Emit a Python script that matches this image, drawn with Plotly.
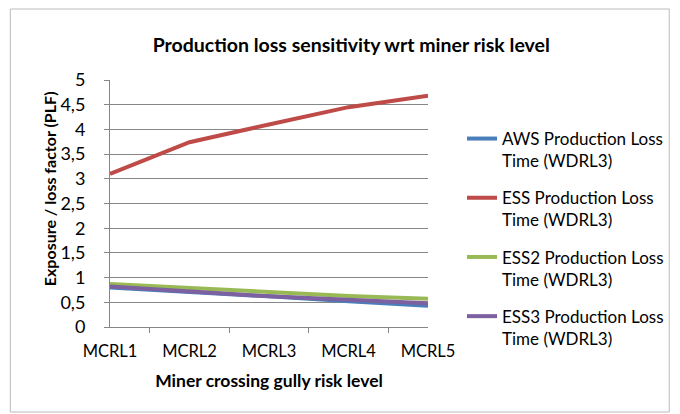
import plotly.graph_objects as go

categories = ["MCRL1", "MCRL2", "MCRL3", "MCRL4", "MCRL5"]
aws = [0.80, 0.72, 0.62, 0.52, 0.43]
ess = [3.10, 3.74, 4.10, 4.45, 4.68]
ess2 = [0.87, 0.79, 0.70, 0.63, 0.57]
ess3 = [0.82, 0.72, 0.62, 0.55, 0.48]

series = [
    ("AWS Production Loss<br>Time (WDRL3)", aws, "#4A7EBB"),
    ("ESS Production Loss<br>Time (WDRL3)", ess, "#BE4B48"),
    ("ESS2 Production Loss<br>Time (WDRL3)", ess2, "#98B954"),
    ("ESS3 Production Loss<br>Time (WDRL3)", ess3, "#7D60A0"),
]

FONT = "Lato"
fig = go.Figure()
for i, (name, vals, color) in enumerate(series):
    fig.add_trace(go.Scatter(
        x=categories, y=vals, mode="lines", name=name,
        line=dict(color=color, width=4), legendgroup=f"g{i}",
    ))

OFF = 8  # page body margin
W, H = 680 - OFF, 414 - OFF
# plot area in window pixels: x 110..429, y 80..327
L = 110 - OFF
R = W - (429 - OFF)
T = 80 - OFF
B = H - (327 - OFF)
pw, ph = W - L - R, H - T - B


def px_x(x):
    return (x - OFF - L) / pw


def px_y(y):
    return (H - B - (y - OFF)) / ph


fig.update_layout(
    width=W, height=H,
    margin=dict(l=L, r=R, t=T, b=B),
    paper_bgcolor="white", plot_bgcolor="white",
    separators=",.",
    font=dict(family=FONT, color="#000000"),
    title=dict(text="<b>Production loss sensitivity wrt miner risk level</b>",
               x=px_x(352), xref="paper", xanchor="center",
               y=1 - (45 - OFF) / H, yref="container", yanchor="middle",
               font=dict(size=19.5, family=FONT)),
    xaxis=dict(
        type="category", tickson="boundaries", ticks="outside", ticklen=5,
        tickcolor="#878787", showline=True, linecolor="#878787", linewidth=1,
        showgrid=False, tickfont=dict(size=16.5), ticklabelstandoff=9,
        title=dict(text="<b>Miner crossing gully risk level</b>", font=dict(size=17.5), standoff=14),
    ),
    yaxis=dict(
        range=[0, 5], dtick=0.5, ticks="outside", ticklen=5, tickcolor="#878787",
        showline=True, linecolor="#878787", linewidth=1,
        showgrid=True, gridcolor="#878787", gridwidth=1, zeroline=False,
        tickfont=dict(size=18), ticklabelstandoff=15,
    ),
    annotations=[dict(
        text="<b>Exposure / loss factor (PLF)</b>", textangle=-90,
        xref="paper", yref="paper", x=px_x(49), y=px_y(189),
        xanchor="center", yanchor="middle", showarrow=False,
        font=dict(size=16, family=FONT),
    )],
    legend=dict(
        x=px_x(462), y=px_y(121), xanchor="left", yanchor="top",
        font=dict(size=17), tracegroupgap=12, valign="top",
        bgcolor="rgba(0,0,0,0)",
    ),
    shapes=[dict(type="rect", xref="paper", yref="paper",
                 x0=px_x(10), x1=px_x(671), y0=px_y(412), y1=px_y(9),
                 line=dict(color="#BBBBBB", width=1), layer="below")],
)

fig.write_html("out.html")
